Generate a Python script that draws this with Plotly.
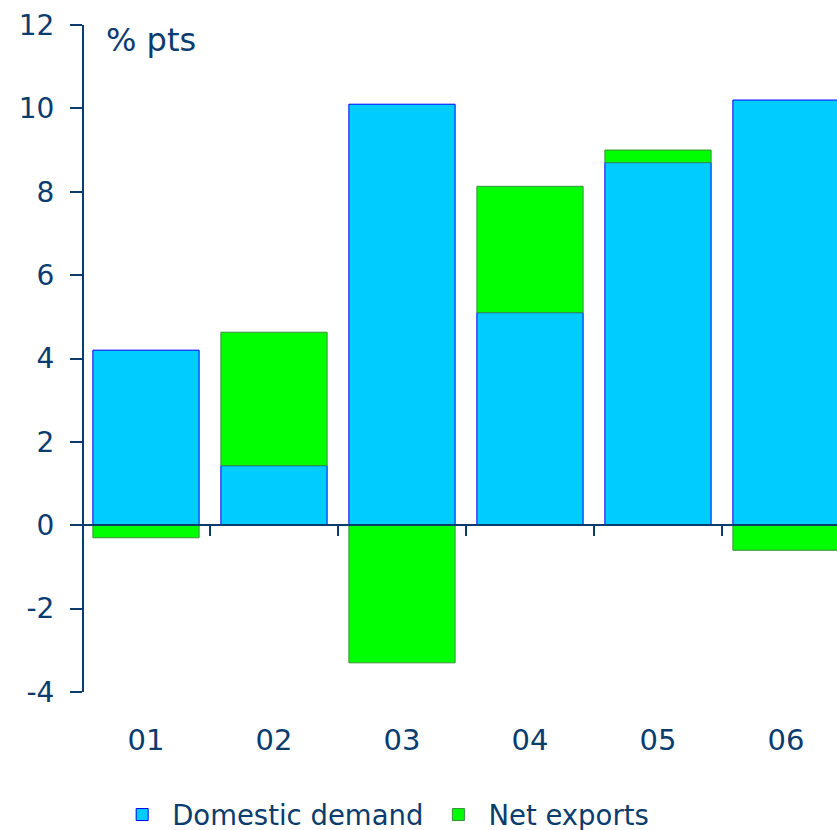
import plotly.graph_objects as go

categories = ["01", "02", "03", "04", "05", "06"]
domestic_demand = [4.2, 1.43, 10.1, 5.1, 8.7, 10.2]
net_exports = [-0.3, 3.2, -3.3, 3.03, 0.3, -0.6]
y_ticks = [-4, -2, 0, 2, 4, 6, 8, 10, 12]
y_tick_labels = ["-4", "-2", "0", "2", "4", "6", "8", "10", "12"]

NAVY = "#0B3C6E"
FONT = "DejaVu Sans"
idx = list(range(len(categories)))

fig = go.Figure()
fig.add_trace(go.Bar(
    x=idx, y=domestic_demand, name="Domestic demand",
    marker=dict(color="#00CCFF", line=dict(color="#0000FF", width=1)),
))
fig.add_trace(go.Bar(
    x=idx, y=net_exports, name="Net exports",
    marker=dict(color="#00FF00", line=dict(color="#3A8F3A", width=1)),
))
# invisible helper so the category-boundary axis at zero is rendered
fig.add_trace(go.Scatter(
    x=idx, y=domestic_demand, xaxis="x2", mode="markers",
    marker=dict(opacity=0), showlegend=False, hoverinfo="skip",
))

x0 = -0.5 + 2 / 128
xr = [x0, x0 + 753 / 128]
fig.update_layout(
    width=837, height=830,
    margin=dict(l=84, r=0, t=25, b=138, autoexpand=False),
    barmode="relative", bargap=0.17,
    plot_bgcolor="white", paper_bgcolor="white",
    font=dict(family=FONT, size=29, color=NAVY),
    showlegend=True,
    legend=dict(orientation="h", xref="container", yref="container",
                x=0.134, xanchor="left", y=0.048, yanchor="top",
                font=dict(size=27.5, color=NAVY), itemwidth=50,
                bgcolor="rgba(0,0,0,0)"),
    xaxis=dict(range=xr, tickvals=idx, ticktext=categories, showline=False,
               showgrid=False, zeroline=False, ticks="", ticklabelstandoff=28,
               automargin=False, tickfont=dict(size=29, color=NAVY)),
    xaxis2=dict(range=xr, overlaying="x", anchor="free", position=0.25, side="bottom",
                showline=True, linecolor=NAVY, linewidth=2, showgrid=False, zeroline=False,
                ticks="outside", ticklen=10, tickwidth=2, tickcolor=NAVY, automargin=False,
                tickvals=[-0.5, 0.5, 1.5, 2.5, 3.5, 4.5], showticklabels=False),
    yaxis=dict(range=[-4, 12], tickvals=y_ticks, ticktext=y_tick_labels,
               showline=True, linecolor=NAVY, linewidth=2,
               ticks="outside", ticklen=12, tickwidth=2, tickcolor=NAVY,
               showgrid=False, zeroline=True, zerolinecolor=NAVY, zerolinewidth=2,
               ticklabelstandoff=10, automargin=False,
               tickfont=dict(size=28, color=NAVY)),
    annotations=[dict(text="% pts", xref="paper", yref="paper", x=0.026, y=0.9775,
                      xanchor="left", yanchor="middle", showarrow=False,
                      font=dict(size=32, color=NAVY))],
)
fig.write_html("out.html", config={"displayModeBar": False},
               post_script="document.body.style.margin='0';document.body.style.padding='0';")
